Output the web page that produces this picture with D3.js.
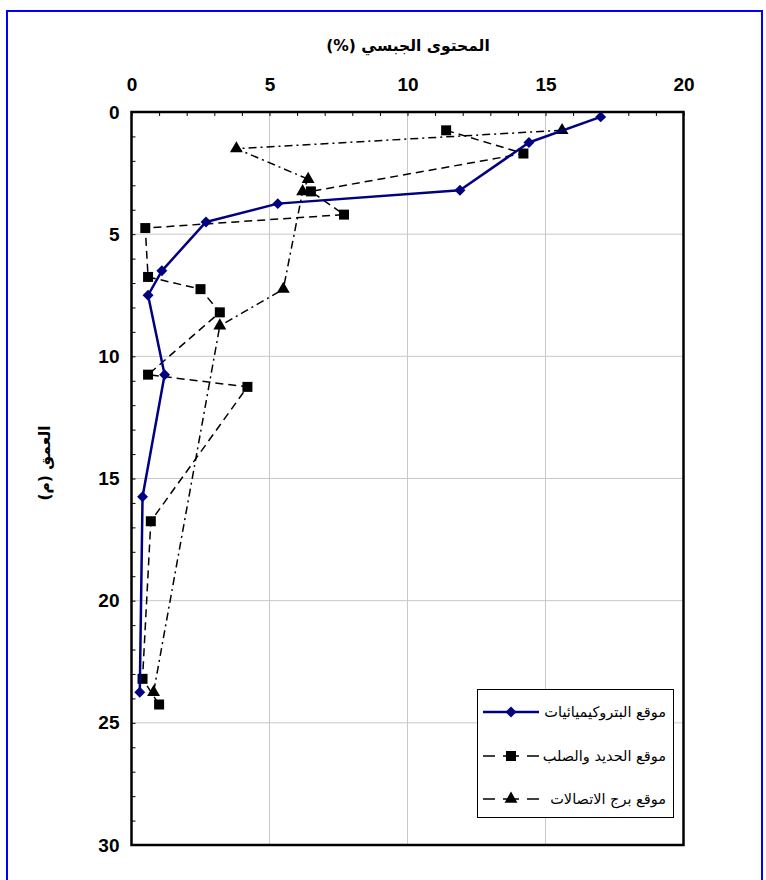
<!DOCTYPE html>
<html>
<head>
<meta charset="utf-8">
<script src="https://cdn.jsdelivr.net/npm/d3@7"></script>
<style>
  html, body { margin: 0; padding: 0; background: #fff; }
  svg { display: block; }
</style>
</head>
<body>
<svg id="chart" width="766" height="880"></svg>
<script>
// Gypsum content (%) against depth (m) at three sites
const seriesNames = ["موقع البتروكيميائيات", "موقع الحديد والصلب", "موقع برج الاتصالات"];

const petroDepth   = [0.2, 1.25, 3.2, 3.75, 4.5, 6.5, 7.5, 10.75, 15.75, 23.75];
const petroGypsum  = [17.0, 14.4, 11.9, 5.3, 2.7, 1.1, 0.6, 1.2, 0.4, 0.3];

const steelDepth   = [0.75, 1.7, 3.25, 4.2, 4.75, 6.75, 7.25, 8.2, 10.75, 11.25, 16.75, 23.2, 24.25];
const steelGypsum  = [11.4, 14.2, 6.5, 7.7, 0.5, 0.6, 2.5, 3.2, 0.6, 4.2, 0.7, 0.4, 1.0];

const towerDepth   = [0.75, 1.5, 2.75, 3.25, 7.25, 8.75, 23.75];
const towerGypsum  = [15.6, 3.8, 6.4, 6.2, 5.5, 3.2, 0.8];

const xTicks = [0, 5, 10, 15, 20];
const yTicks = [0, 5, 10, 15, 20, 25, 30];

const xTitle = "المحتوى الجبسي (%)";
const yTitle = "العمق (م)";

const svg = d3.select("#chart");
const numFont = "'Liberation Sans Narrow', 'Liberation Sans', Arial, sans-serif";
const arFont = "'DejaVu Sans', 'Liberation Sans', sans-serif";

// outer chart frame
svg.append("rect")
  .attr("x", 7).attr("y", 11).attr("width", 755).attr("height", 880)
  .attr("fill", "none").attr("stroke", "#0000ff").attr("stroke-width", 2);

const x = d3.scaleLinear().domain([0, 20]).range([131.5, 683.5]);
const y = d3.scaleLinear().domain([0, 30]).range([112, 845]);

// grid lines at the labelled values
const grid = svg.append("g").attr("stroke", "#c8c8c8").attr("stroke-width", 1);
grid.selectAll("line.v").data(xTicks.slice(1, -1)).join("line")
  .attr("x1", d => x(d)).attr("x2", d => x(d))
  .attr("y1", y(0)).attr("y2", y(30));
grid.selectAll("line.h").data(yTicks.slice(1, -1)).join("line")
  .attr("x1", x(0)).attr("x2", x(20))
  .attr("y1", d => y(d)).attr("y2", d => y(d));

// minor ticks every unit, pointing into the plot
const xMinor = svg.append("g").attr("transform", `translate(0,${y(0)})`)
  .call(d3.axisTop(x).ticks(20).tickSize(-4).tickFormat(""));
xMinor.select(".domain").remove();
xMinor.selectAll("line").attr("stroke", "#000").attr("stroke-width", 1);

const yMinor = svg.append("g").attr("transform", `translate(${x(0)},0)`)
  .call(d3.axisLeft(y).ticks(30).tickSize(-4).tickFormat(""));
yMinor.select(".domain").remove();
yMinor.selectAll("line").attr("stroke", "#000").attr("stroke-width", 1);

// tick labels
const xAxis = svg.append("g").attr("transform", `translate(0,${y(0)})`)
  .call(d3.axisTop(x).tickValues(xTicks).tickSize(0).tickPadding(21));
xAxis.select(".domain").remove();
xAxis.selectAll("text").attr("font-family", numFont).attr("font-weight", "bold")
  .attr("font-size", 19).attr("fill", "#000");

const yAxis = svg.append("g").attr("transform", `translate(${x(0)},0)`)
  .call(d3.axisLeft(y).tickValues(yTicks).tickSize(0).tickPadding(12));
yAxis.select(".domain").remove();
yAxis.selectAll("text").attr("font-family", numFont).attr("font-weight", "bold")
  .attr("font-size", 19).attr("fill", "#000");

// plot frame
svg.append("rect")
  .attr("x", x(0)).attr("y", y(0))
  .attr("width", x(20) - x(0)).attr("height", y(30) - y(0))
  .attr("fill", "none").attr("stroke", "#000").attr("stroke-width", 2.5);

// axis titles
svg.append("text")
  .attr("x", 408).attr("y", 51)
  .attr("text-anchor", "middle")
  .attr("font-family", arFont).attr("font-weight", "bold").attr("font-size", 15.5)
  .attr("direction", "rtl")
  .text(xTitle);

svg.append("text")
  .attr("transform", "translate(50,463) rotate(-90)")
  .attr("text-anchor", "middle")
  .attr("font-family", arFont).attr("font-weight", "bold").attr("font-size", 15.5)
  .attr("direction", "rtl")
  .text(yTitle);

// series
const series = [
  { name: seriesNames[2], depth: towerDepth, val: towerGypsum, color: "#000", width: 1.5, dash: "8,4,2,4", symbol: d3.symbolTriangle, size: 72, rot: 0 },
  { name: seriesNames[1], depth: steelDepth, val: steelGypsum, color: "#000", width: 1.5, dash: "8,5", symbol: d3.symbolSquare, size: 100, rot: 0 },
  { name: seriesNames[0], depth: petroDepth, val: petroGypsum, color: "#000080", width: 2.5, dash: null, symbol: d3.symbolSquare, size: 60, rot: 45 }
];

const line = d3.line().x(d => x(d[0])).y(d => y(d[1]));

series.forEach(s => {
  const pts = s.val.map((v, i) => [v, s.depth[i]]);
  const g = svg.append("g");
  g.append("path")
    .attr("d", line(pts))
    .attr("fill", "none").attr("stroke", s.color)
    .attr("stroke-width", s.width)
    .attr("stroke-dasharray", s.dash)
    .attr("stroke-linejoin", "round");
  g.selectAll("path.m").data(pts).join("path")
    .attr("class", "m")
    .attr("d", d3.symbol().type(s.symbol).size(s.size)())
    .attr("transform", d => `translate(${x(d[0])},${y(d[1])}) rotate(${s.rot})`)
    .attr("fill", s.color);
});

// legend
const legend = svg.append("g");
legend.append("rect")
  .attr("x", 477.5).attr("y", 689.5).attr("width", 196).attr("height", 128)
  .attr("fill", "#fff").attr("stroke", "#000").attr("stroke-width", 1);

const legendRows = [series[2], series[1], series[0]];
const rowY = [712, 756, 799];
legendRows.forEach((s, i) => {
  const yy = rowY[i];
  legend.append("line")
    .attr("x1", 483).attr("x2", 539).attr("y1", yy).attr("y2", yy)
    .attr("stroke", s.color).attr("stroke-width", s.width)
    .attr("stroke-dasharray", s.dash ? "12,8,16,8,12" : null);
  legend.append("path")
    .attr("d", d3.symbol().type(s.symbol).size(s.size)())
    .attr("transform", `translate(511,${yy}) rotate(${s.rot})`)
    .attr("fill", s.color);
  legend.append("text")
    .attr("x", 666).attr("y", yy + 5)
    .attr("text-anchor", "start")
    .attr("direction", "rtl")
    .attr("font-family", arFont).attr("font-size", 14.5)
    .text(s.name);
});
</script>
</body>
</html>
